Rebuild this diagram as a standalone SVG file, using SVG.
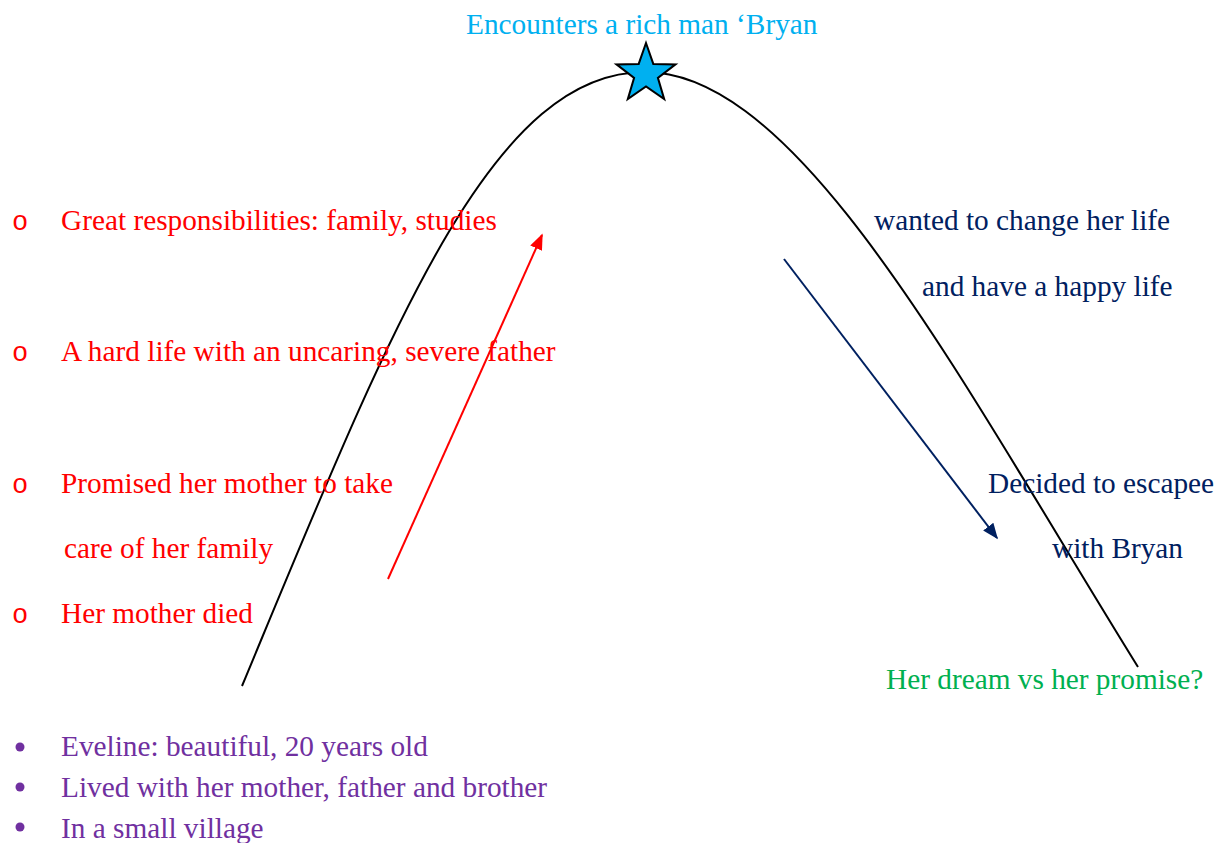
<svg xmlns="http://www.w3.org/2000/svg" width="1226" height="843" viewBox="0 0 1226 843">
<style>
text{font-family:"Liberation Serif","Times New Roman",serif;font-size:29.3px}
.red{fill:#FF0000}
.navy{fill:#002060}
.purple{fill:#7030A0}
.green{fill:#00B050}
.sky{fill:#00B0F0}
.mark{font-family:"Liberation Mono","Courier New",monospace;font-size:27px}
</style>
<defs>
<marker id="ahRed" viewBox="0 0 10 10" refX="9" refY="5" markerWidth="8" markerHeight="8" orient="auto" markerUnits="strokeWidth">
<path d="M0,1 L10,5 L0,9 z" fill="#FF0000"/>
</marker>
<marker id="ahNavy" viewBox="0 0 10 10" refX="9" refY="5" markerWidth="8" markerHeight="8" orient="auto" markerUnits="strokeWidth">
<path d="M0,1 L10,5 L0,9 z" fill="#002060"/>
</marker>
</defs>
<rect width="1226" height="843" fill="#FFFFFF"/>
<g id="connectors">
<path id="arc" d="M242,686 C390,330 490,72 645,72 C800,72 960,380 1138,667" fill="none" stroke="#000000" stroke-width="2"/>
<line id="arrow-up" x1="388" y1="579" x2="542" y2="235" stroke="#FF0000" stroke-width="2" marker-end="url(#ahRed)"/>
<line id="arrow-down" x1="784" y1="259" x2="997" y2="538" stroke="#002060" stroke-width="2" marker-end="url(#ahNavy)"/>
</g>
<g id="climax">
<polygon points="646,43 653.3,63.9 675.5,64.4 657.9,77.9 664.2,99.1 646,86.5 627.8,99.1 634.1,77.9 616.5,64.4 638.7,63.9" fill="#00B0F0" stroke="#000000" stroke-width="2" stroke-linejoin="miter"/>
<text class="sky" x="466" y="34">Encounters a rich man ‘Bryan</text>
</g>
<g id="rising-action">
<text class="red mark" x="12" y="230">o</text>
<text class="red" x="61" y="230">Great responsibilities: family, studies</text>
<text class="red mark" x="12" y="361">o</text>
<text class="red" x="61" y="361">A hard life with an uncaring, severe father</text>
<text class="red mark" x="12" y="493">o</text>
<text class="red" x="61" y="493">Promised her mother to take</text>
<text class="red" x="64" y="558">care of her family</text>
<text class="red mark" x="12" y="623">o</text>
<text class="red" x="61" y="623">Her mother died</text>
</g>
<g id="exposition">
<circle cx="20" cy="747" r="4.5" fill="#7030A0"/>
<text class="purple" x="61" y="756">Eveline: beautiful, 20 years old</text>
<circle cx="20" cy="787" r="4.5" fill="#7030A0"/>
<text class="purple" x="61" y="797">Lived with her mother, father and brother</text>
<circle cx="20" cy="827" r="4.5" fill="#7030A0"/>
<text class="purple" x="61" y="838">In a small village</text>
</g>
<g id="falling-action">
<text class="navy" x="874" y="230">wanted to change her life</text>
<text class="navy" x="922" y="296">and have a happy life</text>
<text class="navy" x="988" y="493">Decided to escapee</text>
<text class="navy" x="1052" y="558">with Bryan</text>
</g>
<g id="resolution">
<text class="green" x="886" y="689">Her dream vs her promise?</text>
</g>
</svg>
